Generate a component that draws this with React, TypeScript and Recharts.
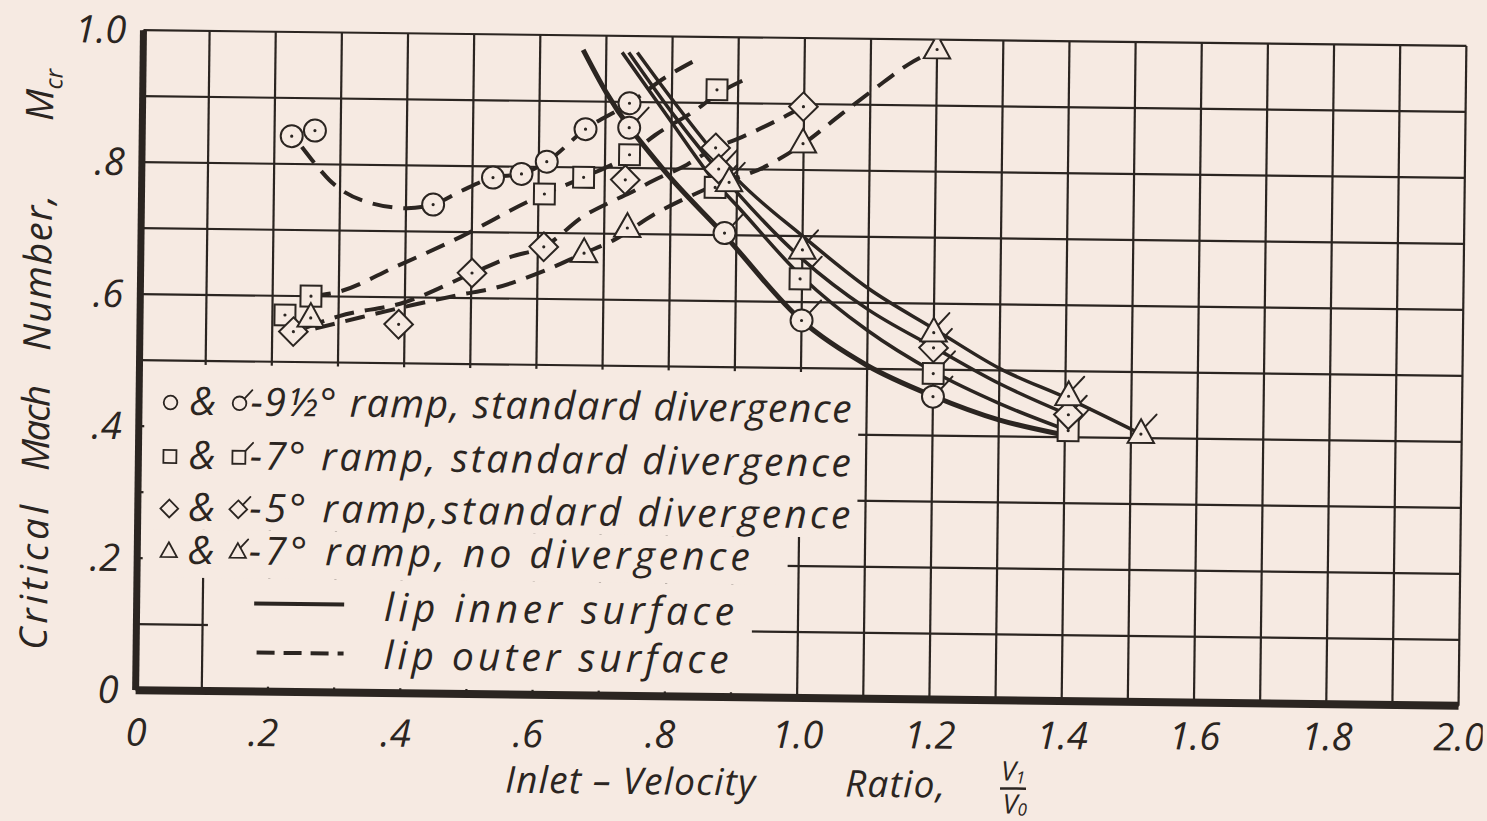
import React from "react";
import { CartesianGrid, ComposedChart, Line, Scatter, XAxis, YAxis } from "recharts";

const PAPER = "#f6eae2";
const INK = "#2b2521";
const FONT = "'Open Sans', 'DejaVu Sans', sans-serif";

const W = 1487;
const H = 821;
const PLOT_LEFT = 139.5;
const PLOT_TOP = 38;

// axis ticks (grid every 0.1, labels every 0.2)
const xGridTicks = [0, 0.1, 0.2, 0.3, 0.4, 0.5, 0.6, 0.7, 0.8, 0.9, 1.0, 1.1, 1.2, 1.3, 1.4, 1.5, 1.6, 1.7, 1.8, 1.9, 2.0];
const yGridTicks = [0, 0.1, 0.2, 0.3, 0.4, 0.5, 0.6, 0.7, 0.8, 0.9, 1.0];
const xTickValues = [0, 0.2, 0.4, 0.6, 0.8, 1.0, 1.2, 1.4, 1.6, 1.8, 2.0];
const xTickLabels = ["0", ".2", ".4", ".6", ".8", "1.0", "1.2", "1.4", "1.6", "1.8", "2.0"];
const yTickValues = [0, 0.2, 0.4, 0.6, 0.8, 1.0];
const yTickLabels = ["0", ".2", ".4", ".6", ".8", "1.0"];

// test points, lip outer surface (plain symbols)
const circleOuterX = [0.226, 0.261, 0.441, 0.531, 0.574, 0.612, 0.67, 0.736];
const circleOuterY = [0.842, 0.851, 0.741, 0.783, 0.789, 0.808, 0.858, 0.898];
const squareOuterX = [0.219, 0.258, 0.609, 0.668, 0.737, 0.868];
const squareOuterY = [0.571, 0.6, 0.759, 0.785, 0.82, 0.92];
const diamondOuterX = [0.232, 0.391, 0.501, 0.609, 0.731, 0.867, 0.999];
const diamondOuterY = [0.546, 0.559, 0.638, 0.679, 0.782, 0.832, 0.896];
const triangleOuterX = [0.258, 0.67, 0.735, 0.999, 1.2];
const triangleOuterY = [0.567, 0.67, 0.709, 0.84, 0.985];

// test points, lip inner surface (flagged symbols)
const circleInnerX = [0.736, 0.882, 1.0, 1.2];
const circleInnerY = [0.861, 0.703, 0.572, 0.459];
const squareInnerX = [0.867, 0.997, 1.2, 1.405];
const squareInnerY = [0.772, 0.635, 0.494, 0.41];
const diamondInnerX = [0.872, 1.2, 1.405];
const diamondInnerY = [0.8, 0.533, 0.434];
const triangleInnerX = [0.888, 1.0, 1.2, 1.405, 1.515];
const triangleInnerY = [0.78, 0.679, 0.556, 0.462, 0.406];

// faired curves, lip outer surface (dashed)
const circleOuterCurveX = [0.2415, 0.264, 0.284, 0.334, 0.4, 0.441, 0.483, 0.531, 0.574, 0.612, 0.67, 0.736, 0.79, 0.838];
const circleOuterCurveY = [0.826, 0.798, 0.776, 0.746, 0.735, 0.741, 0.762, 0.783, 0.789, 0.808, 0.858, 0.898, 0.938, 0.966];
const squareOuterCurveX = [0.258, 0.299, 0.385, 0.484, 0.584, 0.609, 0.668, 0.737, 0.775, 0.838, 0.868, 0.91];
const squareOuterCurveY = [0.6, 0.607, 0.646, 0.693, 0.747, 0.759, 0.785, 0.82, 0.85, 0.89, 0.913, 0.936];
const diamondOuterCurveX = [0.25, 0.3, 0.4, 0.501, 0.559, 0.609, 0.67, 0.711, 0.742, 0.773, 0.824, 0.867, 0.9, 0.96, 0.999];
const diamondOuterCurveY = [0.552, 0.57, 0.5925, 0.6375, 0.663, 0.679, 0.727, 0.749, 0.764, 0.781, 0.806, 0.8325, 0.846, 0.875, 0.896];
const triangleOuterCurveX = [0.265, 0.334, 0.41, 0.484, 0.533, 0.609, 0.67, 0.714, 0.775, 0.849, 0.945, 1.0, 1.056, 1.106, 1.157, 1.2];
const triangleOuterCurveY = [0.551, 0.569, 0.588, 0.605, 0.615, 0.642, 0.67, 0.69, 0.73, 0.7675, 0.806, 0.84, 0.885, 0.924, 0.962, 0.985];

// faired curves, lip inner surface (solid)
const circleInnerCurveX = [0.665, 0.7, 0.787, 0.882, 1.0, 1.1, 1.2, 1.3, 1.39];
const circleInnerCurveY = [0.978, 0.915, 0.8, 0.7, 0.572, 0.505, 0.46, 0.425, 0.405];
const squareInnerCurveX = [0.724, 0.8, 0.867, 0.9, 1.0, 1.1, 1.2, 1.3, 1.405];
const squareInnerCurveY = [0.975, 0.87, 0.78, 0.745, 0.638, 0.558, 0.497, 0.45, 0.41];
const diamondInnerCurveX = [0.734, 0.8, 0.9, 1.0, 1.1, 1.2, 1.3, 1.405];
const diamondInnerCurveY = [0.975, 0.885, 0.765, 0.665, 0.59, 0.534, 0.48, 0.434];
const triangleInnerCurveX = [0.747, 0.8, 0.9, 1.0, 1.1, 1.2, 1.3, 1.405, 1.515];
const triangleInnerCurveY = [0.975, 0.905, 0.785, 0.7, 0.622, 0.562, 0.503, 0.458, 0.406];

type Pt = { x: number; y: number };
const toPts = (xs: number[], ys: number[]): Pt[] => xs.map((x, i) => ({ x, y: ys[i] }));

type Kind = "circle" | "square" | "diamond" | "triangle";

function labelFor(v: number, values: number[], labels: string[]) {
  const i = values.findIndex((t) => Math.abs(t - v) < 1e-6);
  return i >= 0 ? labels[i] : "";
}

function Marker({ cx, cy, kind, flagged = false, size = 1, dot = true }: {
  cx: number; cy: number; kind: Kind; flagged?: boolean; size?: number; dot?: boolean;
}) {
  const r = 11 * size;
  let body: React.ReactNode = null;
  let fx = cx + r * 0.75;
  let fy = cy - r * 0.75;
  if (kind === "circle") {
    body = <circle cx={cx} cy={cy} r={r} />;
  } else if (kind === "square") {
    const h = r * 0.95;
    body = <rect x={cx - h} y={cy - h} width={2 * h} height={2 * h} />;
    fx = cx + h;
    fy = cy - h;
  } else if (kind === "diamond") {
    const d = r * 1.3;
    body = <polygon points={`${cx},${cy - d} ${cx + d},${cy} ${cx},${cy + d} ${cx - d},${cy}`} />;
    fx = cx + d * 0.5;
    fy = cy - d * 0.5;
  } else {
    body = (
      <polygon
        points={`${cx},${cy - r * 1.35} ${cx + r * 1.2},${cy + r * 0.8} ${cx - r * 1.2},${cy + r * 0.8}`}
      />
    );
    fx = cx + r * 0.4;
    fy = cy - r * 0.7;
  }
  return (
    <g fill={PAPER} stroke={INK} strokeWidth={size < 1 ? 1.8 : 2}>
      {body}
      {dot && <circle cx={cx} cy={cy} r={1.6} fill={INK} stroke="none" />}
      {flagged && (
        <line x1={fx} y1={fy} x2={fx + 9 * size + 2} y2={fy - 10 * size - 2} strokeLinecap="round" />
      )}
    </g>
  );
}

function XTick(props: any) {
  const { x, payload } = props;
  const label = labelFor(payload.value, xTickValues, xTickLabels);
  if (!label) return <g />;
  const dotted = label.startsWith(".");
  // the lettering sits a little flatter than the ruled grid
  const ly = 738.5 - (x - 140) * 0.0082;
  return (
    <text
      x={dotted ? x + 11 : x + 1}
      y={ly}
      textAnchor={dotted ? "end" : "middle"}
      dominantBaseline="central"
      fontFamily={FONT}
      fontStyle="italic"
      fontSize={38}
      fill={INK}
    >
      {label}
    </text>
  );
}

function YTick(props: any) {
  const { y, payload } = props;
  const label = labelFor(payload.value, yTickValues, yTickLabels);
  if (!label) return <g />;
  return (
    <text
      x={PLOT_LEFT - 17}
      y={y - 2}
      textAnchor="end"
      dominantBaseline="central"
      fontFamily={FONT}
      fontStyle="italic"
      fontSize={38}
      fill={INK}
    >
      {label}
    </text>
  );
}

const outerCurves = [
  toPts(circleOuterCurveX, circleOuterCurveY),
  toPts(squareOuterCurveX, squareOuterCurveY),
  toPts(diamondOuterCurveX, diamondOuterCurveY),
  toPts(triangleOuterCurveX, triangleOuterCurveY),
];
const innerCurves = [
  { pts: toPts(circleInnerCurveX, circleInnerCurveY), width: 5 },
  { pts: toPts(squareInnerCurveX, squareInnerCurveY), width: 3.5 },
  { pts: toPts(diamondInnerCurveX, diamondInnerCurveY), width: 3.5 },
  { pts: toPts(triangleInnerCurveX, triangleInnerCurveY), width: 3.5 },
];
const pointSets: { kind: Kind; flagged: boolean; pts: Pt[] }[] = [
  { kind: "circle", flagged: false, pts: toPts(circleOuterX, circleOuterY) },
  { kind: "square", flagged: false, pts: toPts(squareOuterX, squareOuterY) },
  { kind: "diamond", flagged: false, pts: toPts(diamondOuterX, diamondOuterY) },
  { kind: "triangle", flagged: false, pts: toPts(triangleOuterX, triangleOuterY) },
  { kind: "circle", flagged: true, pts: toPts(circleInnerX, circleInnerY) },
  { kind: "square", flagged: true, pts: toPts(squareInnerX, squareInnerY) },
  { kind: "diamond", flagged: true, pts: toPts(diamondInnerX, diamondInnerY) },
  { kind: "triangle", flagged: true, pts: toPts(triangleInnerX, triangleInnerY) },
];

const legendRows: { kind: Kind; text: string; end: number; base: number }[] = [
  { kind: "circle", text: "-9½° ramp, standard divergence", end: 852, base: 422 },
  { kind: "square", text: "-7° ramp, standard divergence", end: 852, base: 476 },
  { kind: "diamond", text: "-5° ramp,standard divergence", end: 852, base: 528 },
  { kind: "triangle", text: "-7° ramp, no divergence", end: 752, base: 571 },
];

const textStyle = {
  fontFamily: FONT,
  fontStyle: "italic" as const,
  fill: INK,
};

// y-axis title words: [text, start along the axis (bottom end), length]
const yTitleWords: [string, number, number][] = [
  ["Critical", 659, 145],
  ["Mach", 480, 86],
  ["Number,", 360, 156],
];

function Overlay() {
  return (
    <svg width={W} height={H} style={{ position: "absolute", left: 0, top: 0, pointerEvents: "none" }}>
      {/* legend box hides the grid behind the notes */}
      <g fill={PAPER}>
        <rect x={145} y={372} width={714} height={165} />
        <rect x={145} y={537} width={645} height={48} />
        <rect x={211} y={585} width={544} height={108} />
      </g>
      {legendRows.map((r) => (
        <g key={r.text}>
          <Marker cx={171} cy={r.base - 12} kind={r.kind} size={0.62} dot={false} />
          <text x={190} y={r.base} fontSize={39} {...textStyle}>&amp;</text>
          <Marker cx={240} cy={r.base - 12} kind={r.kind} size={0.62} dot={false} flagged />
          <text x={251} y={r.base} fontSize={39} textLength={r.end - 251} lengthAdjust="spacing" {...textStyle}>
            {r.text}
          </text>
        </g>
      ))}
      <line x1={257} y1={610} x2={347} y2={610} stroke={INK} strokeWidth={4} />
      <text x={387} y={626} fontSize={39} textLength={350} lengthAdjust="spacing" {...textStyle}>
        lip inner surface
      </text>
      <line x1={260} y1={659} x2={347} y2={659} stroke={INK} strokeWidth={4} strokeDasharray="18 9" />
      <text x={387} y={674} fontSize={39} textLength={345} lengthAdjust="spacing" {...textStyle}>
        lip outer surface
      </text>

      {/* axis titles */}
      {yTitleWords.map(([w, s, len]) => (
        <text
          key={w}
          transform={`translate(50, ${s}) rotate(-90)`}
          fontSize={38}
          textLength={len}
          lengthAdjust="spacing"
          {...textStyle}
        >
          {w}
        </text>
      ))}
      <text transform="translate(50, 130) rotate(-90)" fontSize={38} {...textStyle}>
        M
        <tspan fontSize={24} dy={9}>cr</tspan>
      </text>
      <text x={510} y={796} fontSize={37} textLength={250} lengthAdjust="spacing" {...textStyle}>
        Inlet – Velocity
      </text>
      <text x={850} y={796} fontSize={37} textLength={100} lengthAdjust="spacing" {...textStyle}>
        Ratio,
      </text>
      <text x={1018} y={778} fontSize={27} textAnchor="middle" {...textStyle}>
        V<tspan fontSize={17} dy={3}>1</tspan>
      </text>
      <line x1={1005} y1={786} x2={1031} y2={786} stroke={INK} strokeWidth={2.5} />
      <text x={1020} y={811} fontSize={27} textAnchor="middle" {...textStyle}>
        V<tspan fontSize={17} dy={2}>0</tspan>
      </text>
    </svg>
  );
}

export default function App() {
  return (
    <div style={{ position: "absolute", left: 0, top: 0, width: W, height: H, overflow: "hidden", background: PAPER }}>
      <div
        style={{
          position: "relative",
          width: W,
          height: H,
          transform: "rotate(0.68deg)",
          transformOrigin: "801px 368px",
        }}
      >
        <ComposedChart
          width={W}
          height={H}
          margin={{ top: PLOT_TOP, right: 24.5, bottom: 63, left: 39.5 }}
        >
          <CartesianGrid stroke={INK} strokeWidth={2.2} fill="none" />
          <XAxis
            type="number"
            dataKey="x"
            domain={[0, 2]}
            ticks={xGridTicks}
            interval={0}
            height={60}
            tickLine={false}
            axisLine={{ stroke: INK, strokeWidth: 8 }}
            tick={<XTick />}
            allowDataOverflow
          />
          <YAxis
            type="number"
            dataKey="y"
            domain={[0, 1]}
            ticks={yGridTicks}
            interval={0}
            width={100}
            tickLine={false}
            axisLine={{ stroke: INK, strokeWidth: 7 }}
            tick={<YTick />}
            allowDataOverflow
          />
          {outerCurves.map((pts, i) => (
            <Line
              key={`o${i}`}
              data={pts}
              dataKey="y"
              type="monotone"
              stroke={INK}
              strokeWidth={4}
              strokeDasharray="20 11"
              dot={false}
              activeDot={false}
              isAnimationActive={false}
            />
          ))}
          {innerCurves.map((c, i) => (
            <Line
              key={`i${i}`}
              data={c.pts}
              dataKey="y"
              type="monotone"
              stroke={INK}
              strokeWidth={c.width}
              dot={false}
              activeDot={false}
              isAnimationActive={false}
            />
          ))}
          {pointSets.map((s, i) => (
            <Scatter
              key={`p${i}`}
              data={s.pts}
              dataKey="y"
              isAnimationActive={false}
              shape={(p: any) => <Marker cx={p.cx} cy={p.cy} kind={s.kind} flagged={s.flagged} />}
            />
          ))}
        </ComposedChart>
        <Overlay />
      </div>
    </div>
  );
}
